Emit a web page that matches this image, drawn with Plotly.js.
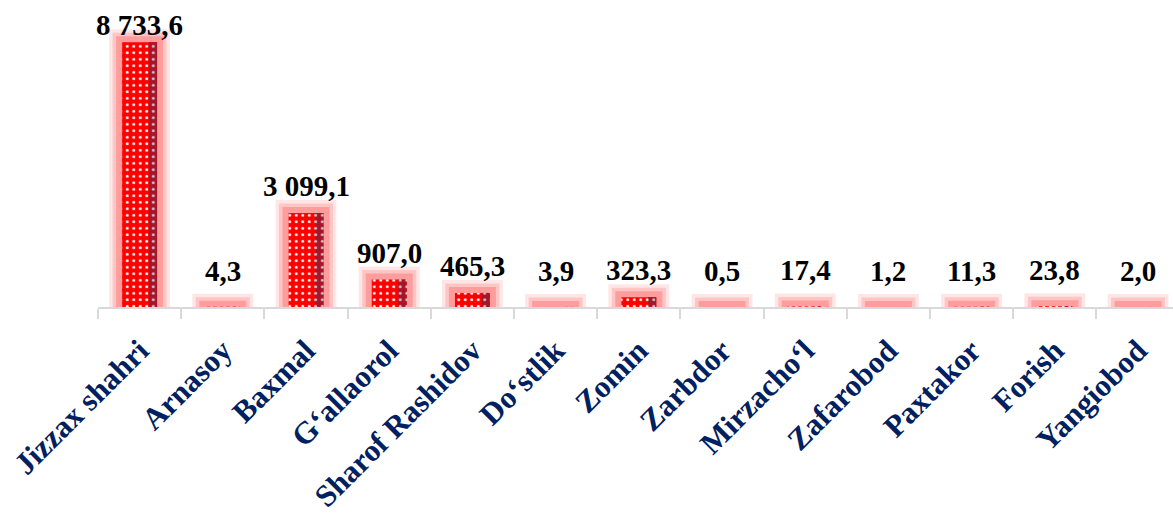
<!DOCTYPE html>
<html>
<head>
<meta charset="utf-8">
<script src="https://cdn.plot.ly/plotly-3.0.1.min.js"></script>
<style>html,body{margin:0;padding:0;background:#fff;}#chart{width:1173px;height:514px;}</style>
</head>
<body>
<div id="chart"></div>
<script>
// ---- data ----
const categories = ["Jizzax shahri", "Arnasoy", "Baxmal", "G\u2018allaorol", "Sharof Rashidov", "Do\u2018stlik", "Zomin", "Zarbdor", "Mirzacho\u2018l", "Zafarobod", "Paxtakor", "Forish", "Yangiobod"];
const values = [8733.6, 4.3, 3099.1, 907.0, 465.3, 3.9, 323.3, 0.5, 17.4, 1.2, 11.3, 23.8, 2.0];

function fmt(v) {
  const parts = v.toFixed(1).split('.');
  const intPart = parts[0].replace(/\B(?=(\d{3})+(?!\d))/g, ' ');
  return intPart + ',' + parts[1];
}

const BW = 0.42;
const PAD = 400; // glow base extends below the axis (clipped)
function glow(width, color) {
  return {
    type: 'bar', x: categories, y: values.map(v => v + PAD), base: -PAD,
    width: BW, hoverinfo: 'skip', showlegend: false,
    marker: {color: color, line: {color: color, width: width}}
  };
}

const traces = [
  glow(26, 'rgb(255,230,230)'),
  glow(19, 'rgb(255,196,196)'),
  glow(12, 'rgb(255,156,156)'),
  {
    type: 'bar', x: categories, y: values, width: BW, showlegend: false,
    marker: {color: '#FF0000', line: {width: 0},
      pattern: {shape: '.', bgcolor: '#FF0000', fgcolor: '#FFFFFF', size: 6.5, solidity: 0.16}}
  },
  {
    type: 'bar', x: categories, y: values, width: 0.1, offset: BW / 2 - 0.1, showlegend: false,
    hoverinfo: 'skip',
    marker: {color: '#A8142A', line: {width: 0},
      pattern: {shape: '.', bgcolor: '#A8142A', fgcolor: '#C8C8C8', size: 6.5, solidity: 0.16}}
  }
];

const annotations = categories.map((c, i) => ({
  x: c, y: values[i], xref: 'x', yref: 'y', yanchor: 'middle',
  yshift: values[i] > 5000 ? 17 : (values[i] < 100 ? 36 : 27),
  text: fmt(values[i]), showarrow: false,
  font: {family: 'Liberation Serif, Times New Roman, serif', size: 29, color: '#000000', weight: 'bold'}
}));

const layout = {
  width: 1173, height: 514,
  margin: {l: 98, r: 0, t: 4, b: 207},
  paper_bgcolor: '#FFFFFF', plot_bgcolor: '#FFFFFF',
  barmode: 'overlay',
  showlegend: false,
  xaxis: {
    type: 'category', range: [-0.5, 12.42], automargin: false,
    showline: true, linecolor: '#D9D9D9', linewidth: 2,
    ticks: 'outside', tickson: 'boundaries', ticklen: 10, tickwidth: 2, tickcolor: '#D9D9D9',
    tickangle: -45, ticklabelstandoff: 11,
    tickfont: {family: 'Liberation Serif, Times New Roman, serif', size: 31, color: '#002060', weight: 'bold'},
    showgrid: false, zeroline: false, fixedrange: true
  },
  yaxis: {range: [0, 10000], visible: false, showgrid: false, zeroline: false, fixedrange: true},
  annotations: annotations
};

Plotly.newPlot('chart', traces, layout, {displayModeBar: false, staticPlot: true});
</script>
</body>
</html>
